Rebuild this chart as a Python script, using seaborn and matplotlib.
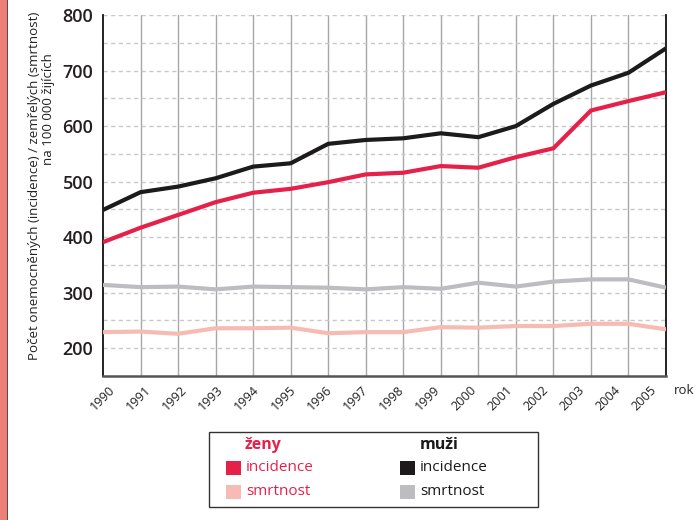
import matplotlib
matplotlib.use("Agg")
import matplotlib.pyplot as plt
from matplotlib.patches import Rectangle
import numpy as np
import pandas as pd
import seaborn as sns

# Incidence and mortality per 100 000 population, 1990-2005
years = list(range(1990, 2006))
zeny_incidence = [391, 417, 440, 463, 480, 487, 499, 513, 516, 528, 525, 544, 560, 628, 645, 661]
zeny_smrtnost = [229, 230, 226, 236, 236, 237, 227, 229, 229, 238, 237, 240, 240, 244, 244, 234]
muzi_incidence = [449, 481, 491, 506, 527, 533, 568, 575, 578, 587, 580, 600, 640, 673, 696, 740]
muzi_smrtnost = [314, 310, 311, 306, 311, 310, 309, 306, 310, 307, 318, 311, 320, 324, 324, 309]

group_titles = ["ženy", "muži"]
measure_names = ["incidence", "smrtnost"]
y_ticks = [200, 300, 400, 500, 600, 700, 800]
y_label_1 = "Počet onemocněných (incidence) / zemřelých (smrtnost)"
y_label_2 = "na 100 000 žijících"
x_title = "rok"

RED = "#E5214A"
PINK = "#F6BCB3"
BLACK = "#1C1A1B"
GRAY = "#BDBDC1"

series = {
    ("ženy", "incidence"): zeny_incidence,
    ("ženy", "smrtnost"): zeny_smrtnost,
    ("muži", "incidence"): muzi_incidence,
    ("muži", "smrtnost"): muzi_smrtnost,
}
colors = {
    ("ženy", "incidence"): RED,
    ("ženy", "smrtnost"): PINK,
    ("muži", "incidence"): BLACK,
    ("muži", "smrtnost"): GRAY,
}

rows = []
for (g, m), vals in series.items():
    for y, v in zip(years, vals):
        rows.append({"rok": y, "hodnota": v, "serie": f"{g} {m}"})
df = pd.DataFrame(rows)
palette = {f"{g} {m}": c for (g, m), c in colors.items()}
order = ["ženy smrtnost", "muži smrtnost", "ženy incidence", "muži incidence"]

sns.set_theme(style="white")
plt.rcParams["font.family"] = ["Open Sans", "DejaVu Sans"]

W, H = 696, 520
fig = plt.figure(figsize=(W / 100, H / 100), dpi=100)
ax = fig.add_axes([103 / W, 1 - 376 / H, (666 - 103) / W, (376 - 15) / H])

sns.lineplot(data=df, x="rok", y="hodnota", hue="serie", hue_order=order,
             palette=palette, linewidth=3.0, ax=ax, legend=False)
for ln in ax.lines:
    ln.set_solid_capstyle("butt")
    ln.set_solid_joinstyle("miter")
    ln.set_zorder(3)

ax.set_xlim(years[0], years[-1])
ax.set_ylim(150, 800)
ax.set_xticks(years)
ax.set_xticklabels([])
# year labels, rotated, on a slightly tighter pitch than the gridlines
for i, y in enumerate(years):
    ax.annotate(str(y), xy=(y, 0), xycoords=ax.get_xaxis_transform(),
                xytext=(-0.5 - 1.4 * i, -7), textcoords="offset pixels",
                rotation=45, ha="center", va="top", fontsize=9.2, color="#222222",
                annotation_clip=False)
ax.set_yticks(y_ticks)
ax.set_yticklabels([str(v) for v in y_ticks], fontsize=13, color="#231F20",
                   fontweight="semibold")
ax.set_xlabel("")
ax.set_ylabel("")
ax.tick_params(axis="both", length=0)
ax.tick_params(axis="y", pad=7)

# gridlines: solid verticals per year, dashed horizontals every 50
for y in years[1:-1]:
    ax.axvline(y, color="#A7A7AA", linewidth=1.0, zorder=1)
for v in range(200, 801, 50):
    ax.axhline(v, color="#C8C8C8", linewidth=1.0, linestyle=(0, (3, 2.5)), zorder=1)

ax.spines["top"].set_visible(False)
ax.spines["left"].set_color("#111111")
ax.spines["left"].set_linewidth(1.3)
ax.spines["right"].set_color("#111111")
ax.spines["right"].set_linewidth(1.3)
ax.spines["bottom"].set_color("#555555")
ax.spines["bottom"].set_linewidth(1.8)

fig.text(35 / W, 1 - 186 / H, y_label_1, rotation=90, ha="center", va="center",
         fontsize=9.6, color="#222222")
fig.text(48.5 / W, 1 - 109 / H, y_label_2, rotation=90, ha="center", va="center",
         fontsize=9.6, color="#222222")
fig.text(684 / W, 1 - 391 / H, x_title, ha="center", va="center",
         fontsize=9.5, color="#222222")

# side band
fig.patches.append(Rectangle((0, 0), 6.5 / W, 1, transform=fig.transFigure,
                             facecolor="#EE7F76", edgecolor="none"))
fig.patches.append(Rectangle((6.5 / W, 0), 1.5 / W, 1, transform=fig.transFigure,
                             facecolor="#5A4A4A", edgecolor="none"))

# legend box
fig.patches.append(Rectangle((209 / W, 1 - 507 / H), (538 - 209) / W, (507 - 432) / H,
                             transform=fig.transFigure, facecolor="white",
                             edgecolor="#333333", linewidth=1.0))
col_x = {"ženy": 226, "muži": 400}
title_x = {"ženy": 263, "muži": 439}
title_color = {"ženy": RED, "muži": BLACK}
text_color = {"ženy": RED, "muži": BLACK}
row_y = {"incidence": 468, "smrtnost": 492}
for g in group_titles:
    fig.text(title_x[g] / W, 1 - 445 / H, g, ha="center", va="center",
             fontsize=11.5, fontweight="bold", color=title_color[g])
    for m in measure_names:
        yc = row_y[m]
        fig.patches.append(Rectangle((col_x[g] / W, 1 - (yc + 7) / H), 15 / W, 14 / H,
                                     transform=fig.transFigure,
                                     facecolor=colors[(g, m)], edgecolor="none"))
        fig.text((col_x[g] + 20) / W, 1 - (yc - 0.5) / H, m, ha="left", va="center",
                 fontsize=11, color=text_color[g])

fig.savefig("out.png", dpi=100)
